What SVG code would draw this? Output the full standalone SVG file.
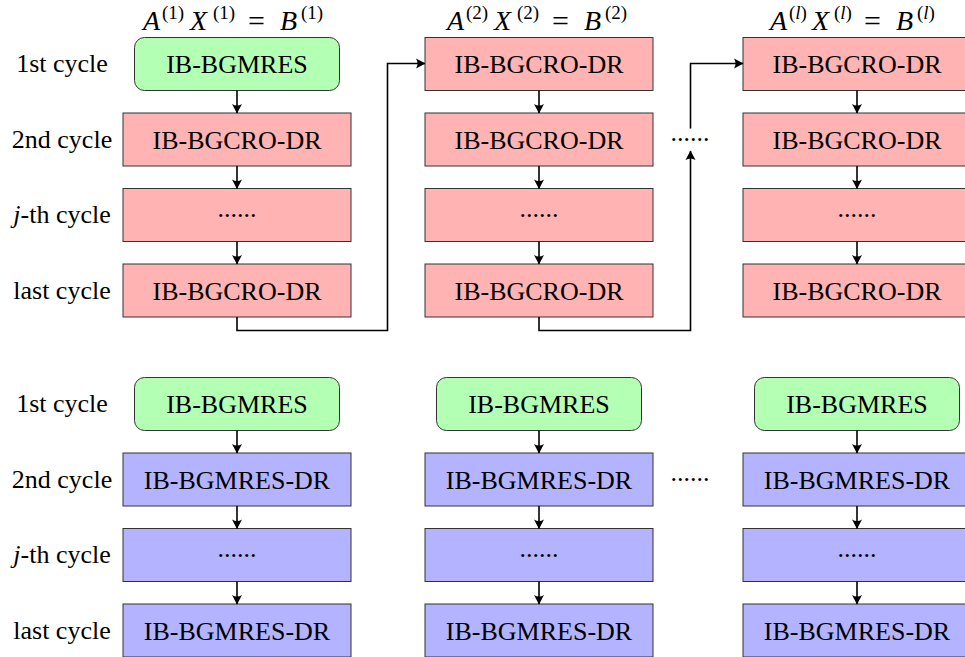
<svg xmlns="http://www.w3.org/2000/svg" width="965" height="657" viewBox="0 0 965 657" font-family="'Liberation Serif', 'Times New Roman', serif">
<defs>
<style>
text{font-family:'Liberation Serif','Times New Roman',serif;font-size:26px;fill:#000}
.t{text-anchor:middle}
.i{font-style:italic}
.h{font-size:28px}
.s{font-size:19px}
.eq{font-size:30px}
.red{fill:#ffb3b3;stroke:#333;stroke-width:1}
.grn{fill:#b3ffb3;stroke:#333;stroke-width:1}
.blu{fill:#b3b3ff;stroke:#333;stroke-width:1}
.c{fill:none;stroke:#000;stroke-width:1.6}
</style>
<marker id="ar" markerUnits="userSpaceOnUse" viewBox="-10 -6 11 12" refX="0" refY="0" markerWidth="11" markerHeight="12" orient="auto">
<path d="M0.5,0 L-9,-5 Q-6,0 -9,5 Z" fill="#000"/>
</marker>
</defs>
<rect width="965" height="657" fill="#fff"/>

<g id="headers">
<text class="h" y="30"><tspan class="i" x="143">A</tspan><tspan class="s" x="162" y="19">(1)</tspan><tspan class="i" x="190" y="30">X</tspan><tspan class="s" x="213" y="19">(1)</tspan><tspan class="eq" x="248" y="31">=</tspan><tspan class="i" x="280" y="30">B</tspan><tspan class="s" x="301" y="19">(1)</tspan></text>
<text class="h" y="30"><tspan class="i" x="447">A</tspan><tspan class="s" x="466" y="19">(2)</tspan><tspan class="i" x="494" y="30">X</tspan><tspan class="s" x="517" y="19">(2)</tspan><tspan class="eq" x="552" y="31">=</tspan><tspan class="i" x="584" y="30">B</tspan><tspan class="s" x="605" y="19">(2)</tspan></text>
<text class="h" y="30"><tspan class="i" x="770">A</tspan><tspan class="s" x="789" y="19">(<tspan class="i">l</tspan>)</tspan><tspan class="i" x="812" y="30">X</tspan><tspan class="s" x="834" y="19">(<tspan class="i">l</tspan>)</tspan><tspan class="eq" x="864" y="31">=</tspan><tspan class="i" x="896" y="30">B</tspan><tspan class="s" x="917" y="19">(<tspan class="i">l</tspan>)</tspan></text>
</g>

<g id="row-labels">
<text class="t" x="62" y="72">1st cycle</text>
<text class="t" x="62" y="148">2nd cycle</text>
<text class="t" x="62" y="223"><tspan class="i">j</tspan>-th cycle</text>
<text class="t" x="62" y="299">last cycle</text>
<text class="t" x="62" y="412">1st cycle</text>
<text class="t" x="62" y="488">2nd cycle</text>
<text class="t" x="62" y="563"><tspan class="i">j</tspan>-th cycle</text>
<text class="t" x="62" y="639">last cycle</text>
</g>

<g id="gaps">
<text class="t" x="690" y="141">......</text>
<text class="t" x="690" y="481">......</text>
</g>

<g id="t1-1"><rect class="grn" x="134.5" y="37.5" width="205" height="53" rx="10"/><text class="t" x="237" y="73">IB-BGMRES</text></g>
<g id="t1-2"><rect class="red" x="123" y="113" width="228" height="53"/><text class="t" x="237" y="148.5">IB-BGCRO-DR</text></g>
<g id="t1-3"><rect class="red" x="123" y="188.5" width="228" height="53"/><text class="t" x="237" y="217">......</text></g>
<g id="t1-4"><rect class="red" x="123" y="264" width="228" height="53"/><text class="t" x="237" y="299.5">IB-BGCRO-DR</text></g>

<g id="t2-1"><rect class="red" x="425" y="37.5" width="228" height="53"/><text class="t" x="539" y="73">IB-BGCRO-DR</text></g>
<g id="t2-2"><rect class="red" x="425" y="113" width="228" height="53"/><text class="t" x="539" y="148.5">IB-BGCRO-DR</text></g>
<g id="t2-3"><rect class="red" x="425" y="188.5" width="228" height="53"/><text class="t" x="539" y="217">......</text></g>
<g id="t2-4"><rect class="red" x="425" y="264" width="228" height="53"/><text class="t" x="539" y="299.5">IB-BGCRO-DR</text></g>

<g id="t3-1"><rect class="red" x="743" y="37.5" width="228" height="53"/><text class="t" x="857" y="73">IB-BGCRO-DR</text></g>
<g id="t3-2"><rect class="red" x="743" y="113" width="228" height="53"/><text class="t" x="857" y="148.5">IB-BGCRO-DR</text></g>
<g id="t3-3"><rect class="red" x="743" y="188.5" width="228" height="53"/><text class="t" x="857" y="217">......</text></g>
<g id="t3-4"><rect class="red" x="743" y="264" width="228" height="53"/><text class="t" x="857" y="299.5">IB-BGCRO-DR</text></g>

<g id="b1-1"><rect class="grn" x="134.5" y="377.5" width="205" height="53" rx="10"/><text class="t" x="237" y="413">IB-BGMRES</text></g>
<g id="b1-2"><rect class="blu" x="123" y="453" width="228" height="53"/><text class="t" x="237" y="488.5">IB-BGMRES-DR</text></g>
<g id="b1-3"><rect class="blu" x="123" y="528.5" width="228" height="53"/><text class="t" x="237" y="557">......</text></g>
<g id="b1-4"><rect class="blu" x="123" y="604" width="228" height="53"/><text class="t" x="237" y="639.5">IB-BGMRES-DR</text></g>

<g id="b2-1"><rect class="grn" x="436.5" y="377.5" width="205" height="53" rx="10"/><text class="t" x="539" y="413">IB-BGMRES</text></g>
<g id="b2-2"><rect class="blu" x="425" y="453" width="228" height="53"/><text class="t" x="539" y="488.5">IB-BGMRES-DR</text></g>
<g id="b2-3"><rect class="blu" x="425" y="528.5" width="228" height="53"/><text class="t" x="539" y="557">......</text></g>
<g id="b2-4"><rect class="blu" x="425" y="604" width="228" height="53"/><text class="t" x="539" y="639.5">IB-BGMRES-DR</text></g>

<g id="b3-1"><rect class="grn" x="754.5" y="377.5" width="205" height="53" rx="10"/><text class="t" x="857" y="413">IB-BGMRES</text></g>
<g id="b3-2"><rect class="blu" x="743" y="453" width="228" height="53"/><text class="t" x="857" y="488.5">IB-BGMRES-DR</text></g>
<g id="b3-3"><rect class="blu" x="743" y="528.5" width="228" height="53"/><text class="t" x="857" y="557">......</text></g>
<g id="b3-4"><rect class="blu" x="743" y="604" width="228" height="53"/><text class="t" x="857" y="639.5">IB-BGMRES-DR</text></g>

<g id="connectors">
<path class="c" marker-end="url(#ar)" d="M237,90.5 V113"/>
<path class="c" marker-end="url(#ar)" d="M237,166 V188.5"/>
<path class="c" marker-end="url(#ar)" d="M237,241.5 V264"/>
<path class="c" marker-end="url(#ar)" d="M539,90.5 V113"/>
<path class="c" marker-end="url(#ar)" d="M539,166 V188.5"/>
<path class="c" marker-end="url(#ar)" d="M539,241.5 V264"/>
<path class="c" marker-end="url(#ar)" d="M857,90.5 V113"/>
<path class="c" marker-end="url(#ar)" d="M857,166 V188.5"/>
<path class="c" marker-end="url(#ar)" d="M857,241.5 V264"/>
<path class="c" marker-end="url(#ar)" d="M237,317 V330.5 H387.5 V63.5 H425"/>
<path class="c" marker-end="url(#ar)" d="M539,317 V330.5 H690.5 V151"/>
<path class="c" marker-end="url(#ar)" d="M690.5,128.5 V63.5 H743"/>
<path class="c" marker-end="url(#ar)" d="M237,430.5 V453"/>
<path class="c" marker-end="url(#ar)" d="M237,506 V528.5"/>
<path class="c" marker-end="url(#ar)" d="M237,581.5 V604"/>
<path class="c" marker-end="url(#ar)" d="M539,430.5 V453"/>
<path class="c" marker-end="url(#ar)" d="M539,506 V528.5"/>
<path class="c" marker-end="url(#ar)" d="M539,581.5 V604"/>
<path class="c" marker-end="url(#ar)" d="M857,430.5 V453"/>
<path class="c" marker-end="url(#ar)" d="M857,506 V528.5"/>
<path class="c" marker-end="url(#ar)" d="M857,581.5 V604"/>
</g>
</svg>
